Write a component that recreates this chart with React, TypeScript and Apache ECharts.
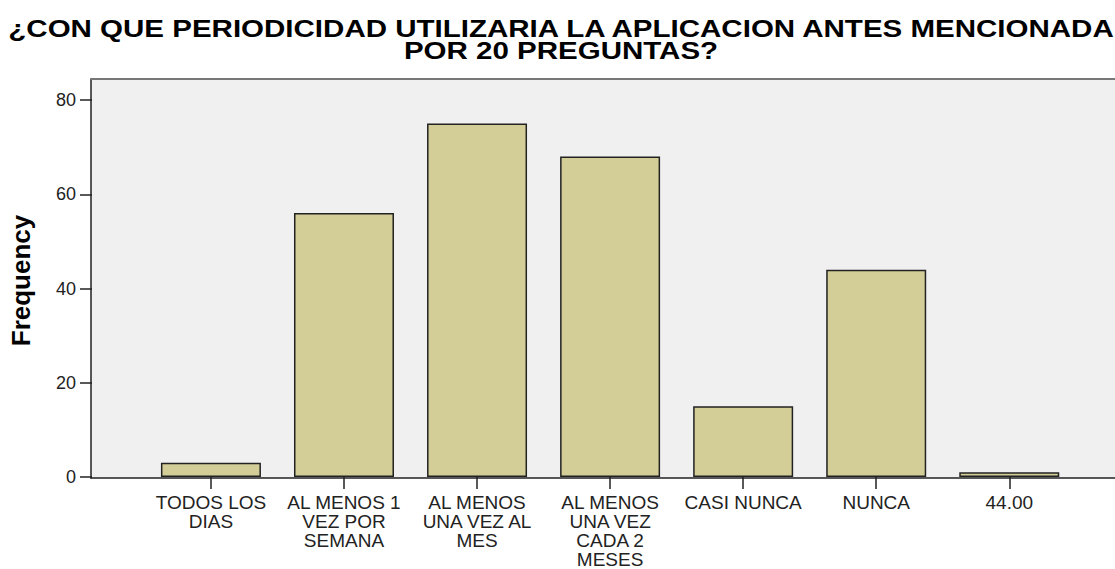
import React, { useEffect, useRef } from "react";
import * as echarts from "echarts";

const categories = [
  "TODOS LOS\nDIAS",
  "AL MENOS 1\nVEZ POR\nSEMANA",
  "AL MENOS\nUNA VEZ AL\nMES",
  "AL MENOS\nUNA VEZ\nCADA 2\nMESES",
  "CASI NUNCA",
  "NUNCA",
  "44.00",
];
const frequencies = [3, 56, 75, 68, 15, 44, 1];
const yTicks = [0, 20, 40, 60, 80];
const titleLines = [
  "¿CON QUE PERIODICIDAD UTILIZARIA LA APLICACION ANTES MENCIONADA",
  "POR 20 PREGUNTAS?",
];

const FONT = "'Liberation Sans', Arial, sans-serif";

export default function App() {
  const ref = useRef<HTMLDivElement>(null);
  useEffect(() => {
    if (!ref.current) return;
    const chart = echarts.init(ref.current, undefined, { renderer: "svg" });
    const yMin = yTicks[0];
    const yMax = yTicks[yTicks.length - 1];
    const yInt = yTicks[1] - yTicks[0];
    chart.setOption({
      animation: false,
      backgroundColor: "#ffffff",
      graphic: titleLines.map((t, i) => ({
        type: "text",
        x: 561,
        y: 29 + i * 22,
        scaleX: 1.23,
        z: 10,
        style: {
          text: t,
          fontFamily: FONT,
          fontWeight: "bold",
          fontSize: 24,
          fill: "#000",
          textAlign: "center",
          textVerticalAlign: "middle",
        },
      })),
      grid: [
        {
          left: 143.4,
          width: 932.4,
          top: 100,
          height: 378,
          containLabel: false,
        },
        {
          left: 91,
          right: -10,
          top: 79,
          height: 399,
          show: true,
          backgroundColor: "#f0f0f0",
          borderWidth: 0,
          z: 0,
        },
      ],
      xAxis: [
        {
          type: "category",
          gridIndex: 0,
          data: categories,
          boundaryGap: true,
          axisLine: { show: false },
          axisTick: {
            show: true,
            alignWithLabel: true,
            length: 12,
            lineStyle: { color: "#222", width: 1.5 },
          },
          axisLabel: {
            interval: 0,
            margin: 16,
            fontFamily: FONT,
            fontSize: 19,
            lineHeight: 19,
            color: "#222",
          },
          splitLine: { show: false },
          z: 5,
        },
        {
          type: "value",
          gridIndex: 1,
          position: "bottom",
          axisLine: { show: true, lineStyle: { color: "#222", width: 1.5 } },
          axisTick: { show: false },
          axisLabel: { show: false },
          splitLine: { show: false },
          z: 4,
        },
        {
          type: "value",
          gridIndex: 1,
          position: "top",
          axisLine: { show: true, lineStyle: { color: "#777", width: 2 } },
          axisTick: { show: false },
          axisLabel: { show: false },
          splitLine: { show: false },
          z: 4,
        },
      ],
      yAxis: [
        {
          type: "value",
          gridIndex: 0,
          min: yMin,
          max: yMax,
          interval: yInt,
          offset: 52.4,
          name: "Frequency",
          nameLocation: "middle",
          nameGap: 58,
          nameTextStyle: {
            fontFamily: FONT,
            fontWeight: "bold",
            fontSize: 26,
            color: "#000",
            padding: [0, 0, 0, 16],
          },
          axisLine: { show: false },
          axisTick: {
            show: true,
            length: 12,
            lineStyle: { color: "#222", width: 1.5 },
          },
          axisLabel: {
            margin: 16,
            fontFamily: FONT,
            fontSize: 18,
            color: "#222",
          },
          splitLine: { show: false },
        },
        {
          type: "value",
          gridIndex: 1,
          min: 0,
          max: 1,
          axisLine: { show: true, lineStyle: { color: "#222", width: 1.5 } },
          axisTick: { show: false },
          axisLabel: { show: false },
          splitLine: { show: false },
          z: 4,
        },
      ],
      series: [
        {
          type: "bar",
          xAxisIndex: 0,
          yAxisIndex: 0,
          data: frequencies,
          barWidth: 100,
          itemStyle: {
            color: "#d3ce97",
            borderColor: "#222",
            borderWidth: 1.5,
          },
          z: 3,
        },
      ],
    });
    return () => chart.dispose();
  }, []);
  return (
    <div
      ref={ref}
      style={{ position: "fixed", left: 0, top: 0, width: 1115, height: 569 }}
    />
  );
}
